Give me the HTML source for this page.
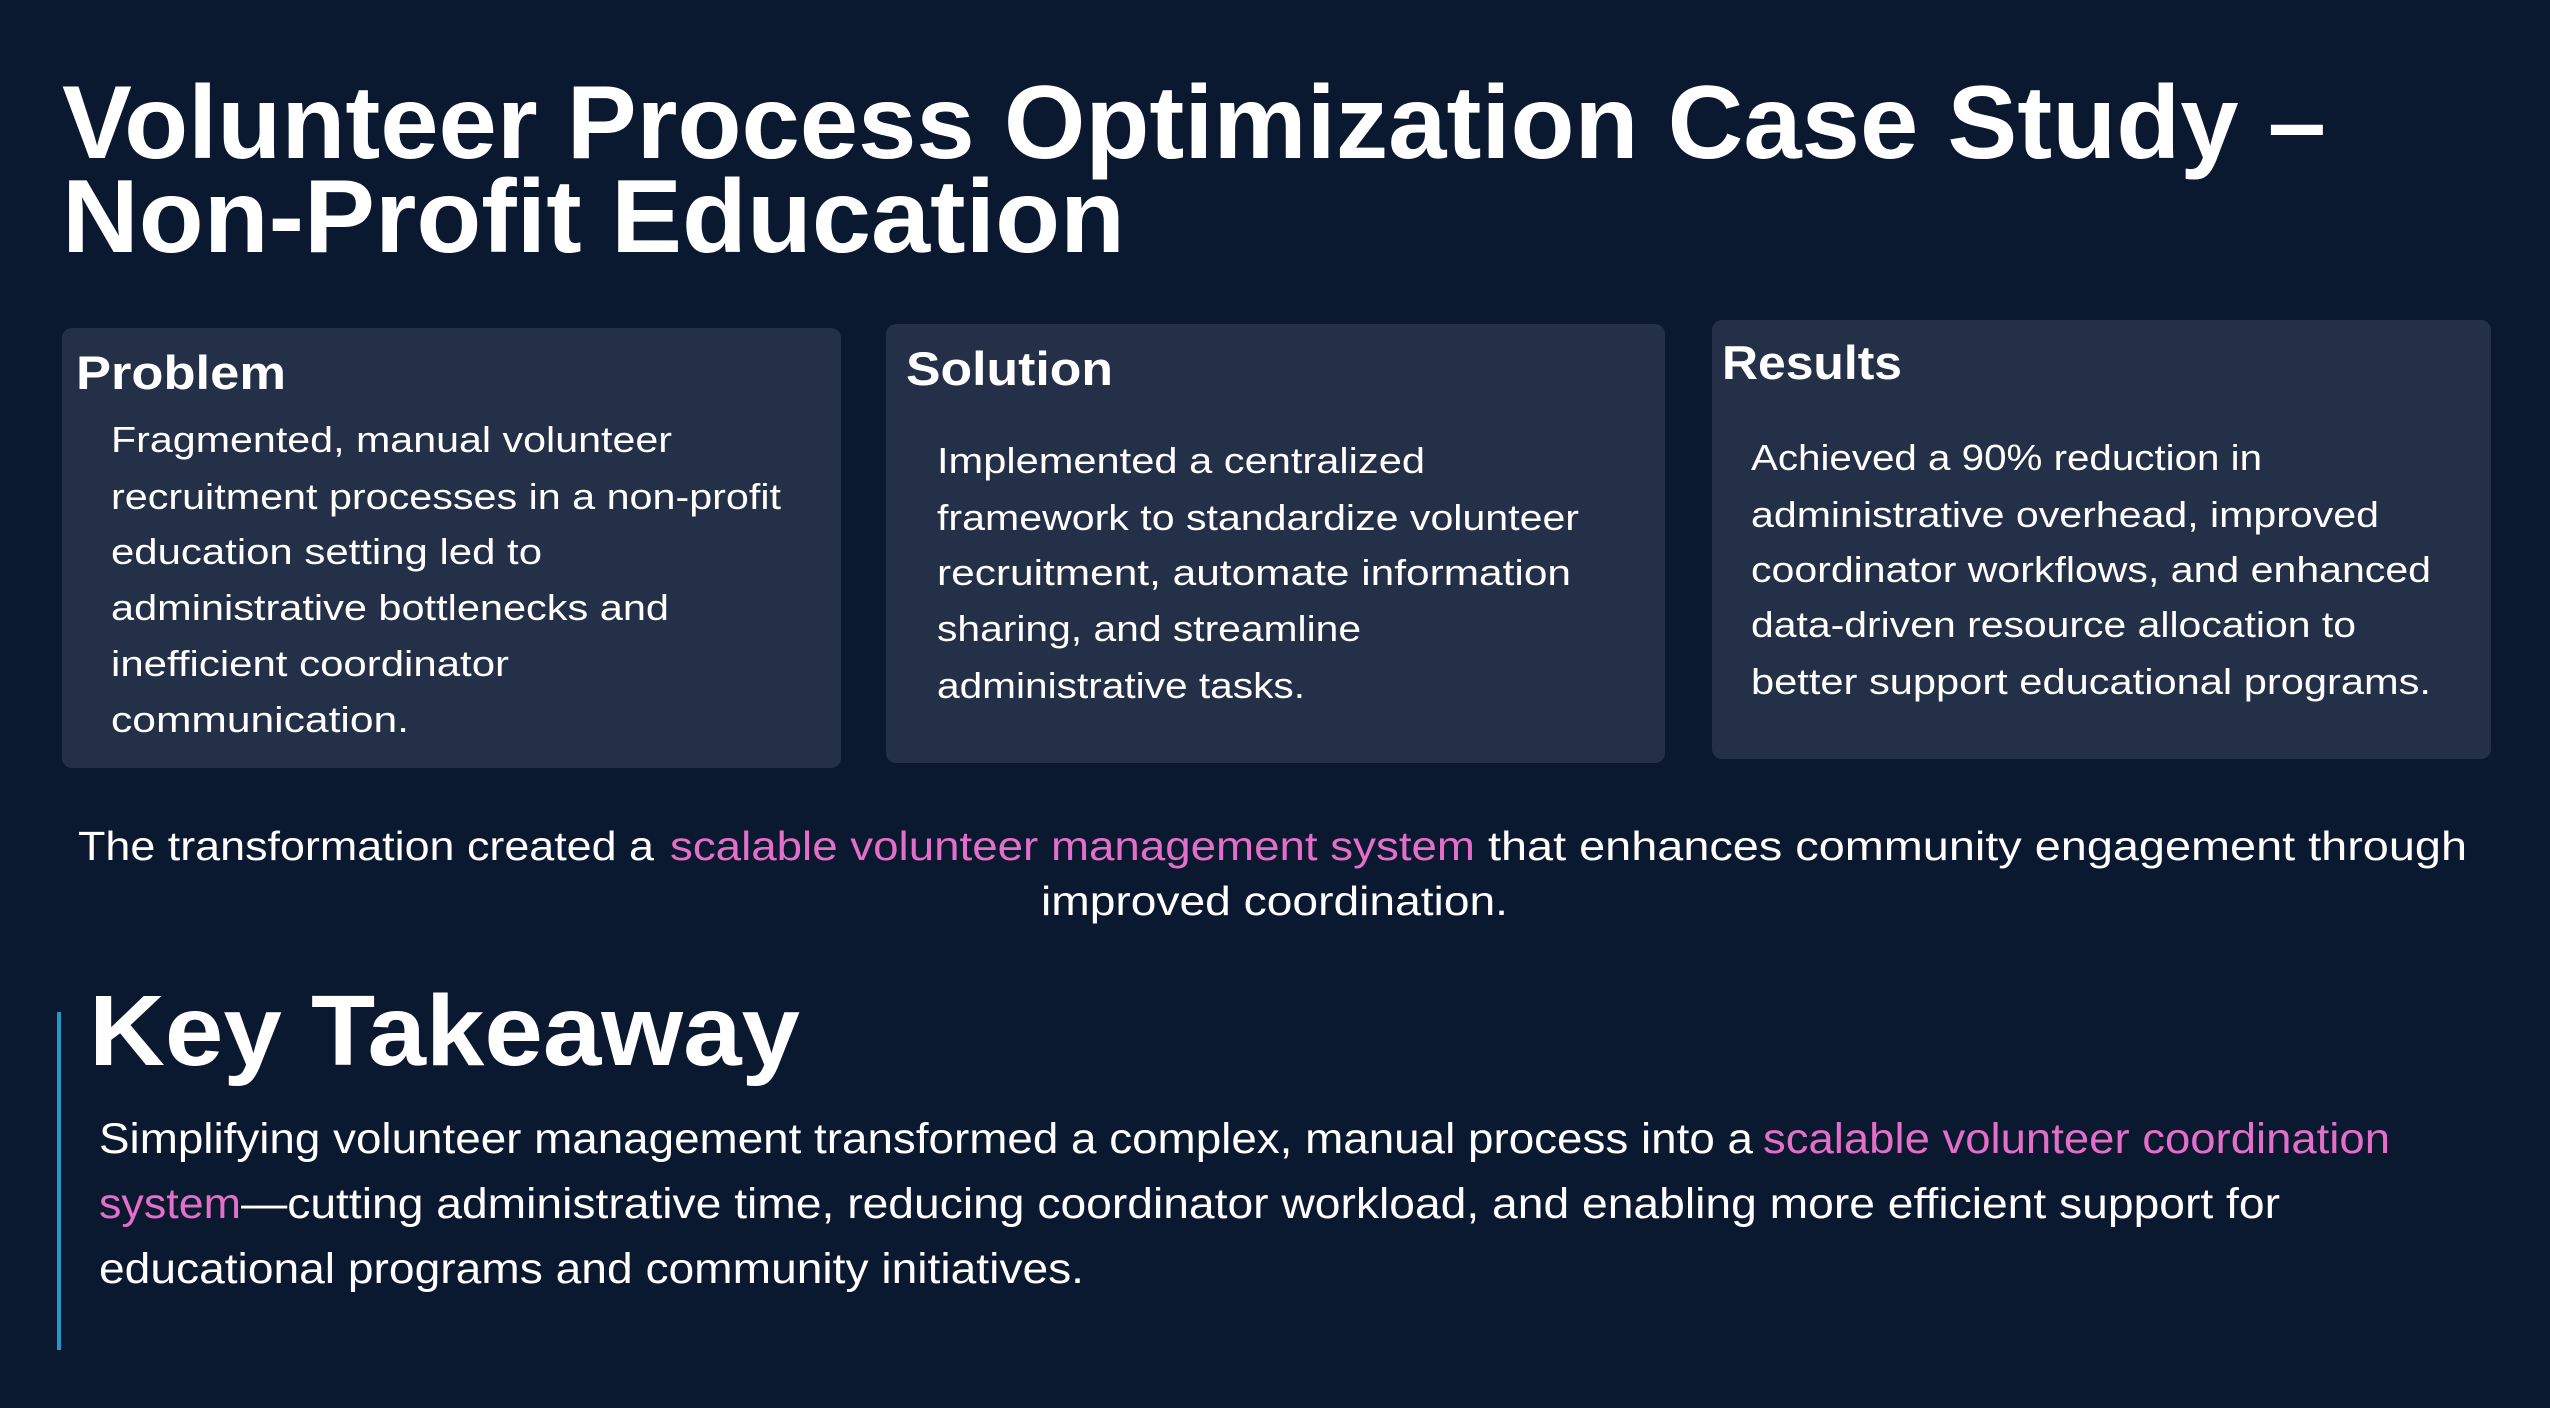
<!DOCTYPE html>
<html><head><meta charset="utf-8"><style>
html,body{margin:0;padding:0;background:#0a1830;width:2550px;height:1408px;overflow:hidden}
svg{display:block}
text{font-family:"Liberation Sans",sans-serif;fill:#ffffff}
.h{font-weight:bold}
.p{fill:#e46fc8}
</style></head><body>
<svg width="2550" height="1408" viewBox="0 0 2550 1408" xmlns="http://www.w3.org/2000/svg">
<rect width="2550" height="1408" fill="#0a1830"/>
<text class="h" x="62" y="158" font-size="104" textLength="2264" lengthAdjust="spacingAndGlyphs">Volunteer Process Optimization Case Study –</text>
<text class="h" x="62" y="252" font-size="104" textLength="1063" lengthAdjust="spacingAndGlyphs">Non-Profit Education</text>

<rect x="62" y="328" width="779" height="440" rx="10" fill="#243048"/>
<rect x="886" y="324" width="779" height="439" rx="10" fill="#243048"/>
<rect x="1712" y="320" width="779" height="439" rx="10" fill="#243048"/>

<g font-size="47" class="h">
<text class="h" x="76" y="389" textLength="210" lengthAdjust="spacingAndGlyphs">Problem</text>
<text class="h" x="906" y="385" textLength="207" lengthAdjust="spacingAndGlyphs">Solution</text>
<text class="h" x="1722" y="379" textLength="180" lengthAdjust="spacingAndGlyphs">Results</text>
</g>
<g font-size="36">
<text x="111" y="452" textLength="561" lengthAdjust="spacingAndGlyphs">Fragmented, manual volunteer</text>
<text x="111" y="509" textLength="670" lengthAdjust="spacingAndGlyphs">recruitment processes in a non-profit</text>
<text x="111" y="564" textLength="431" lengthAdjust="spacingAndGlyphs">education setting led to</text>
<text x="111" y="620" textLength="558" lengthAdjust="spacingAndGlyphs">administrative bottlenecks and</text>
<text x="111" y="676" textLength="398" lengthAdjust="spacingAndGlyphs">inefficient coordinator</text>
<text x="111" y="732" textLength="298" lengthAdjust="spacingAndGlyphs">communication.</text>

<text x="937" y="473" textLength="488" lengthAdjust="spacingAndGlyphs">Implemented a centralized</text>
<text x="937" y="530" textLength="642" lengthAdjust="spacingAndGlyphs">framework to standardize volunteer</text>
<text x="937" y="585" textLength="634" lengthAdjust="spacingAndGlyphs">recruitment, automate information</text>
<text x="937" y="641" textLength="424" lengthAdjust="spacingAndGlyphs">sharing, and streamline</text>
<text x="937" y="698" textLength="368" lengthAdjust="spacingAndGlyphs">administrative tasks.</text>

<text x="1751" y="470" textLength="511" lengthAdjust="spacingAndGlyphs">Achieved a 90% reduction in</text>
<text x="1751" y="527" textLength="628" lengthAdjust="spacingAndGlyphs">administrative overhead, improved</text>
<text x="1751" y="582" textLength="680" lengthAdjust="spacingAndGlyphs">coordinator workflows, and enhanced</text>
<text x="1751" y="637" textLength="605" lengthAdjust="spacingAndGlyphs">data-driven resource allocation to</text>
<text x="1751" y="694" textLength="680" lengthAdjust="spacingAndGlyphs">better support educational programs.</text>
</g>

<g font-size="41">
<text x="78" y="860" textLength="576" lengthAdjust="spacingAndGlyphs">The transformation created a</text>
<text class="p" x="670" y="860" textLength="805" lengthAdjust="spacingAndGlyphs">scalable volunteer management system</text>
<text x="1488" y="860" textLength="979" lengthAdjust="spacingAndGlyphs">that enhances community engagement through</text>
<text x="1041" y="915" textLength="467" lengthAdjust="spacingAndGlyphs">improved coordination.</text>
</g>

<rect x="57" y="1012" width="4" height="338" fill="#1e9ac4"/>
<text class="h" x="89" y="1065" font-size="100" textLength="711" lengthAdjust="spacingAndGlyphs">Key Takeaway</text>
<g font-size="43">
<text x="99" y="1153" textLength="1654" lengthAdjust="spacingAndGlyphs">Simplifying volunteer management transformed a complex, manual process into a</text>
<text class="p" x="1763" y="1153" textLength="627" lengthAdjust="spacingAndGlyphs">scalable volunteer coordination</text>
<text class="p" x="99" y="1218" textLength="142" lengthAdjust="spacingAndGlyphs">system</text>
<text x="241" y="1218" textLength="2039" lengthAdjust="spacingAndGlyphs">—cutting administrative time, reducing coordinator workload, and enabling more efficient support for</text>
<text x="99" y="1283" textLength="985" lengthAdjust="spacingAndGlyphs">educational programs and community initiatives.</text>
</g>
</svg>
</body></html>
